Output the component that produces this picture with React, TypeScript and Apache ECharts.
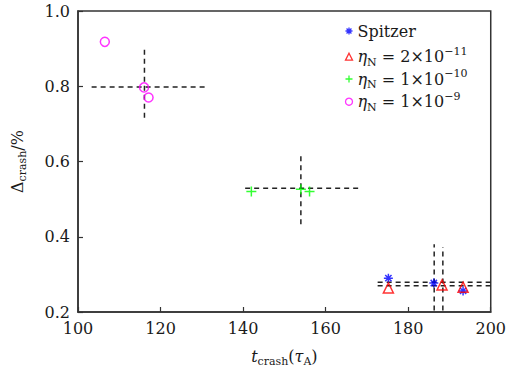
import React, { useEffect, useRef } from "react";
import * as echarts from "echarts";

const xTicks = [100, 120, 140, 160, 180, 200];
const yTicks = [0.2, 0.4, 0.6, 0.8, 1.0];

const seriesNames = ["Spitzer", "eta211", "eta110", "eta19"];
const spitzerX = [175.2, 186.2, 193.3];
const spitzerY = [0.29, 0.277, 0.256];
const eta211X = [175.2, 188.2, 193.3];
const eta211Y = [0.264, 0.272, 0.266];
const eta110X = [142.0, 154.0, 156.1];
const eta110Y = [0.52, 0.526, 0.52];
const eta19X = [106.5, 116.0, 117.1];
const eta19Y = [0.918, 0.797, 0.77];

// error crosses (dashed)
const errCX = [116.1, 154.0, 186.3, 188.4];
const errCY = [0.798, 0.529, 0.279, 0.27];
const errXLow = [103.3, 140.5, 172.6, 172.6];
const errXHigh = [130.8, 168.2, 201, 201];
const errYLow = [0.716, 0.433, 0.18, 0.18];
const errYHigh = [0.901, 0.619, 0.38, 0.373];

const F = "DejaVu Serif";
const TXT = "#1a1a1a";

const rich = {
  n: { fontFamily: F, fontSize: 16, lineHeight: 22, color: TXT },
  i: { fontFamily: F, fontSize: 16, lineHeight: 22, fontStyle: "italic", color: TXT },
  s: { fontFamily: F, fontSize: 11, lineHeight: 11, verticalAlign: "bottom", color: TXT },
  sup: { fontFamily: F, fontSize: 11, lineHeight: 11, verticalAlign: "top", color: TXT },
};

const legendLabels: Record<string, string> = {
  Spitzer: "{n|Spitzer}",
  eta211: "{i|η}{s|N}{n| = 2×10}{sup|−11}",
  eta110: "{i|η}{s|N}{n| = 1×10}{sup|−10}",
  eta19: "{i|η}{s|N}{n| = 1×10}{sup|−9}",
};

const ASTER = "path://M5,0L5,10M0,5L10,5M1.5,1.5L8.5,8.5M8.5,1.5L1.5,8.5";
const PLUS = "path://M5,0L5,10M0,5L10,5";

function zip(xs: number[], ys: number[]) {
  return xs.map((x, i) => [x, ys[i]]);
}

export default function App() {
  const ref = useRef<HTMLDivElement>(null);
  useEffect(() => {
    if (!ref.current) return;
    const chart = echarts.init(ref.current, undefined, { renderer: "svg" });
    const errSeries: any[] = [];
    errCX.forEach((cx, i) => {
      const ls = { color: "#222", width: 1.5, type: [5, 4] };
      errSeries.push({
        type: "line",
        data: [
          [errXLow[i], errCY[i]],
          [errXHigh[i], errCY[i]],
        ],
        symbol: "none",
        lineStyle: ls,
        silent: true,
        z: 1,
      });
      errSeries.push({
        type: "line",
        data: [
          [cx, errYLow[i]],
          [cx, errYHigh[i]],
        ],
        symbol: "none",
        lineStyle: ls,
        silent: true,
        z: 1,
      });
    });
    const mk = (name: string, xs: number[], ys: number[], symbol: string, color: string, size: number) => ({
      name,
      type: "scatter",
      data: zip(xs, ys),
      symbol,
      symbolSize: size,
      itemStyle: { color: "none", borderColor: color, borderWidth: 1.5 },
      z: 3,
    });
    const legendRowsY = [29, 51.7, 74, 96.7];
    const legends = seriesNames.map((nm, i) => ({
      orient: "vertical",
      left: 338,
      top: legendRowsY[i] - 11,
      itemWidth: 7,
      itemHeight: 7,
      itemGap: 0,
      data: [nm],
      itemStyle: { borderWidth: 1.3 },
      formatter: (name: string) => legendLabels[name],
      textStyle: { fontFamily: F, fontSize: 16, color: TXT, rich },
    }));
    chart.setOption({
      animation: false,
      grid: {
        left: 78,
        top: 11,
        width: 416,
        height: 302,
        show: true,
        borderColor: "#333",
        borderWidth: 1.5,
        backgroundColor: "transparent",
      },
      legend: legends,
      xAxis: {
        type: "value",
        min: xTicks[0],
        max: xTicks[xTicks.length - 1],
        interval: 20,
        name: "{i|t}{s|crash}{n|(}{i|τ}{s|A}{n|)}",
        nameLocation: "middle",
        nameGap: 33,
        nameTextStyle: { rich },
        axisLine: { lineStyle: { color: "#333", width: 1.5 } },
        axisTick: { inside: true, length: 5, lineStyle: { color: "#333", width: 1.2 } },
        axisLabel: { fontFamily: F, fontSize: 16, color: TXT, margin: 8 },
        splitLine: { show: false },
      },
      yAxis: {
        type: "value",
        min: yTicks[0],
        max: yTicks[yTicks.length - 1],
        interval: 0.2,
        name: "{n|Δ}{s|crash}{n|/%}",
        nameLocation: "middle",
        nameGap: 50,
        nameRotate: 90,
        nameTextStyle: { rich },
        axisLine: { lineStyle: { color: "#333", width: 1.5 } },
        axisTick: { inside: true, length: 5, lineStyle: { color: "#333", width: 1.2 } },
        axisLabel: {
          fontFamily: F,
          fontSize: 16,
          color: TXT,
          margin: 8,
          formatter: (v: number) => v.toFixed(1),
        },
        splitLine: { show: false },
      },
      series: [
        ...errSeries,
        mk("Spitzer", spitzerX, spitzerY, ASTER, "#0000ff", 9),
        mk("eta211", eta211X, eta211Y, "triangle", "#ff0000", 10),
        mk("eta110", eta110X, eta110Y, PLUS, "#00ff00", 10),
        mk("eta19", eta19X, eta19Y, "circle", "#ff00ff", 9),
      ],
    });
    return () => chart.dispose();
  }, []);
  return <div ref={ref} style={{ width: 509, height: 372, position: "absolute", left: 0, top: 0 }} />;
}
